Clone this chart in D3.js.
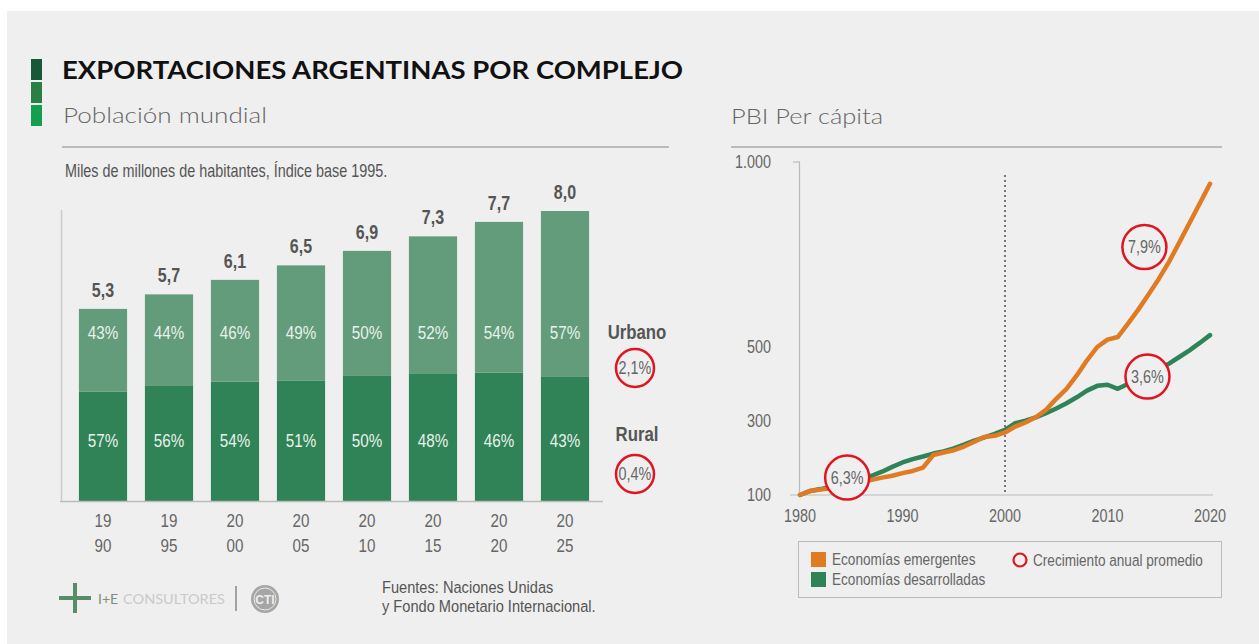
<!DOCTYPE html>
<html>
<head>
<meta charset="utf-8">
<script src="https://cdnjs.cloudflare.com/ajax/libs/d3/7.8.5/d3.min.js"></script>
<style>
  html, body { margin: 0; padding: 0; background: #ffffff; }
  svg { display: block; }
  .cond { font-family: "Liberation Sans", Arial, sans-serif; }
  .head { font-family: "Lato", "Open Sans", sans-serif; }
</style>
</head>
<body>
<svg id="chart" width="1259" height="644"></svg>
<script>
// ---- data ----
var years = ['1990', '1995', '2000', '2005', '2010', '2015', '2020', '2025'];
var totals = [5.3, 5.7, 6.1, 6.5, 6.9, 7.3, 7.7, 8.0];
var urbanPct = [43, 44, 46, 49, 50, 52, 54, 57];
var growthLabels = ['2,1%', '0,4%'];

var pbiYears = [1980, 1981, 1982, 1983, 1984, 1985, 1986, 1987, 1988, 1989,
  1990, 1991, 1992, 1993, 1994, 1995, 1996, 1997, 1998, 1999,
  2000, 2001, 2002, 2003, 2004, 2005, 2006, 2007, 2008, 2009,
  2010, 2011, 2012, 2013, 2014, 2015, 2016, 2017, 2018, 2019, 2020];
var emergentes = [100, 111, 115, 118, 124, 131, 136, 141, 147, 152,
  159, 165, 174, 208, 215, 221, 231, 244, 257, 260,
  269, 285, 296, 310, 330, 360, 387, 423, 464, 500,
  520, 527, 563, 601, 642, 684, 730, 782, 835, 888, 941];
var desarrolladas = [100, 111, 116, 122, 129, 136, 143, 152, 163, 176,
  188, 197, 204, 212, 218, 226, 236, 247, 256, 265,
  276, 294, 301, 310, 321, 334, 348, 364, 382, 395,
  398, 387, 400, 414, 427, 441, 455, 473, 491, 511, 532];
var pbiTicks = [100, 300, 500, 1000];
var pbiYearTicks = [1980, 1990, 2000, 2010, 2020];
var rateNotes = [
  {label: '6,3%', year: 1984.6, value: 147},
  {label: '7,9%', year: 2013.6, value: 770},
  {label: '3,6%', year: 2013.9, value: 420}
];

var svg = d3.select('#chart');
var bg = '#efefef';
var urbanColor = '#629c7a';
var ruralColor = '#2f8356';
var orange = '#e07b24';
var green = '#2e8456';
var red = '#e0151f';
var grey = '#666666';

// condensed look: Arial metrics squeezed horizontally
function narrow(sel, fx, fy, k) {
  k = k || 0.8;
  return sel.attr('transform', function(d, i) {
    var xx = typeof fx === 'function' ? fx(d, i) : fx;
    var yy = typeof fy === 'function' ? fy(d, i) : fy;
    return 'translate(' + xx + ',' + yy + ') scale(' + k + ',1)';
  });
}

svg.append('rect').attr('x', 7).attr('y', 11).attr('width', 1252).attr('height', 633).attr('fill', bg);

// title block
var marks = ['#17583a', '#2a7f46', '#12a04e'];
svg.selectAll('rect.mark').data(marks).enter().append('rect')
  .attr('x', 31).attr('width', 11)
  .attr('y', function(d, i) { return 59 + i * 23; })
  .attr('height', 21)
  .attr('fill', function(d) { return d; });

svg.append('text').attr('class', 'head').attr('x', 62).attr('y', 79)
  .attr('font-size', 25).attr('font-weight', 700).attr('fill', '#111')
  .attr('textLength', 621).attr('lengthAdjust', 'spacingAndGlyphs')
  .text('EXPORTACIONES ARGENTINAS POR COMPLEJO');

svg.append('text').attr('class', 'head').attr('x', 63).attr('y', 123)
  .attr('font-size', 22).attr('font-weight', 300).attr('fill', grey)
  .attr('textLength', 204).attr('lengthAdjust', 'spacingAndGlyphs')
  .text('Población mundial');
svg.append('text').attr('class', 'head').attr('x', 731).attr('y', 124)
  .attr('font-size', 22).attr('font-weight', 300).attr('fill', grey)
  .attr('textLength', 152).attr('lengthAdjust', 'spacingAndGlyphs')
  .text('PBI Per cápita');

svg.append('line').attr('x1', 62).attr('x2', 669).attr('y1', 147).attr('y2', 147).attr('stroke', '#888');
svg.append('line').attr('x1', 731).attr('x2', 1222).attr('y1', 147).attr('y2', 147).attr('stroke', '#888');

narrow(svg.append('text').attr('class', 'cond'), 65, 177, 0.8)
  .attr('font-size', 18).attr('fill', '#555')
  .text('Miles de millones de habitantes, Índice base 1995.');

// ---- bar chart ----
var x = d3.scaleBand().domain(years).range([70, 598]).paddingInner(0.27).paddingOuter(0.135);
var y = d3.scaleLinear().domain([0, 8]).range([501, 211]);

var rows = years.map(function(yr, i) {
  return {year: yr, total: totals[i], urban: urbanPct[i], rural: 100 - urbanPct[i]};
});

var bars = svg.append('g');
bars.selectAll('rect.rural').data(rows).enter().append('rect')
  .attr('x', function(d) { return x(d.year); })
  .attr('width', x.bandwidth())
  .attr('y', function(d) { return y(d.total * d.rural / 100); })
  .attr('height', function(d) { return y(0) - y(d.total * d.rural / 100); })
  .attr('fill', ruralColor);
bars.selectAll('rect.urban').data(rows).enter().append('rect')
  .attr('x', function(d) { return x(d.year); })
  .attr('width', x.bandwidth())
  .attr('y', function(d) { return y(d.total); })
  .attr('height', function(d) { return y(d.total * d.rural / 100) - y(d.total); })
  .attr('fill', urbanColor);

function cx(d) { return x(d.year) + x.bandwidth() / 2; }

narrow(bars.selectAll('text.tot').data(rows).enter().append('text'), cx, function(d) { return y(d.total) - 12; })
  .attr('class', 'cond').attr('text-anchor', 'middle')
  .attr('font-size', 20).attr('font-weight', 700).attr('fill', '#555')
  .text(function(d) { return d3.format('.1f')(d.total).replace('.', ','); });

narrow(bars.selectAll('text.up').data(rows).enter().append('text'), cx, 339)
  .attr('class', 'cond').attr('text-anchor', 'middle')
  .attr('font-size', 19).attr('fill', '#e9f1ec')
  .text(function(d) { return d.urban + '%'; });
narrow(bars.selectAll('text.rp').data(rows).enter().append('text'), cx, 447)
  .attr('class', 'cond').attr('text-anchor', 'middle')
  .attr('font-size', 19).attr('fill', '#e9f1ec')
  .text(function(d) { return d.rural + '%'; });

narrow(bars.selectAll('text.y1').data(rows).enter().append('text'), cx, 527)
  .attr('class', 'cond').attr('text-anchor', 'middle')
  .attr('font-size', 19).attr('fill', grey)
  .text(function(d) { return d.year.slice(0, 2); });
narrow(bars.selectAll('text.y2').data(rows).enter().append('text'), cx, 552)
  .attr('class', 'cond').attr('text-anchor', 'middle')
  .attr('font-size', 19).attr('fill', grey)
  .text(function(d) { return d.year.slice(2); });

svg.append('line').attr('x1', 60).attr('x2', 603).attr('y1', 501.5).attr('y2', 501.5).attr('stroke', '#bbb').attr('stroke-width', 1.5);
svg.append('line').attr('x1', 61.5).attr('x2', 61.5).attr('y1', 210).attr('y2', 501).attr('stroke', '#ccc').attr('stroke-width', 1.5);

// side labels
narrow(svg.append('text').attr('class', 'cond'), 637, 339).attr('text-anchor', 'middle')
  .attr('font-size', 21).attr('font-weight', 700).attr('fill', '#555').text('Urbano');
narrow(svg.append('text').attr('class', 'cond'), 637, 441).attr('text-anchor', 'middle')
  .attr('font-size', 21).attr('font-weight', 700).attr('fill', '#555').text('Rural');
var sideY = [368, 474];
growthLabels.forEach(function(t, i) {
  svg.append('circle').attr('cx', 635).attr('cy', sideY[i]).attr('r', 19)
    .attr('fill', bg).attr('stroke', red).attr('stroke-width', 2.5);
  narrow(svg.append('text').attr('class', 'cond'), 635, sideY[i] + 6).attr('text-anchor', 'middle')
    .attr('font-size', 18).attr('fill', grey).text(t);
});

// footer
var logo = svg.append('g').attr('opacity', 0.85);
logo.append('line').attr('x1', 59).attr('x2', 91).attr('y1', 598).attr('y2', 598).attr('stroke', '#3f7d52').attr('stroke-width', 4);
logo.append('line').attr('x1', 75).attr('x2', 75).attr('y1', 583).attr('y2', 613).attr('stroke', '#3f7d52').attr('stroke-width', 4);
logo.append('text').attr('class', 'head').attr('x', 98).attr('y', 604).attr('font-size', 14).attr('fill', '#6b7a70').text('I+E');
logo.append('text').attr('class', 'head').attr('x', 123).attr('y', 604).attr('font-size', 14).attr('fill', '#c4c4c4')
  .attr('textLength', 102).attr('lengthAdjust', 'spacingAndGlyphs').text('CONSULTORES');
logo.append('line').attr('x1', 236).attr('x2', 236).attr('y1', 586).attr('y2', 611).attr('stroke', '#777').attr('stroke-width', 1.5);
logo.append('circle').attr('cx', 265).attr('cy', 599).attr('r', 14).attr('fill', '#9a9a9a');
logo.append('circle').attr('cx', 265).attr('cy', 599).attr('r', 11).attr('fill', 'none').attr('stroke', '#e8e8e8').attr('stroke-width', 1);
logo.append('text').attr('class', 'cond').attr('x', 265).attr('y', 604).attr('text-anchor', 'middle').attr('font-size', 12).attr('font-weight', 700).attr('fill', '#eee').text('CTI');

narrow(svg.append('text').attr('class', 'cond'), 382, 593, 0.86).attr('font-size', 17).attr('fill', '#555')
  .text('Fuentes: Naciones Unidas');
narrow(svg.append('text').attr('class', 'cond'), 382, 612, 0.86).attr('font-size', 17).attr('fill', '#555')
  .text('y Fondo Monetario Internacional.');

// ---- line chart ----
var lx = d3.scaleLinear().domain([1980, 2020]).range([800, 1210]);
var ly = d3.scaleLinear().domain([100, 1000]).range([495, 162]);
var es = d3.formatLocale({decimal: ',', thousands: '.', grouping: [3], currency: ['$', '']});

svg.append('line').attr('x1', 799.5).attr('x2', 799.5).attr('y1', ly(1000)).attr('y2', ly(100)).attr('stroke', '#bbb').attr('stroke-width', 1.2);
svg.append('line').attr('x1', 793).attr('x2', 800).attr('y1', ly(1000)).attr('y2', ly(1000)).attr('stroke', '#bbb').attr('stroke-width', 1.2);
svg.append('line').attr('x1', 790).attr('x2', 1213).attr('y1', ly(100)).attr('y2', ly(100)).attr('stroke', '#bbb').attr('stroke-width', 1.2);

narrow(svg.selectAll('text.ytick').data(pbiTicks).enter().append('text'), 771, function(d) { return ly(d) + 6; })
  .attr('class', 'cond').attr('text-anchor', 'end')
  .attr('font-size', 18).attr('fill', grey)
  .text(function(d) { return es.format(',')(d); });
narrow(svg.selectAll('text.xtick').data(pbiYearTicks).enter().append('text'), function(d) { return lx(d); }, 522)
  .attr('class', 'cond').attr('text-anchor', 'middle')
  .attr('font-size', 18).attr('fill', grey)
  .text(function(d) { return d; });

svg.append('line').attr('x1', lx(2000)).attr('x2', lx(2000)).attr('y1', 175).attr('y2', 493)
  .attr('stroke', '#777').attr('stroke-width', 2).attr('stroke-dasharray', '2,3');

var line = d3.line()
  .x(function(d) { return lx(d[0]); })
  .y(function(d) { return ly(d[1]); })
  .curve(d3.curveLinear);

svg.append('path').datum(d3.zip(pbiYears, desarrolladas)).attr('d', line)
  .attr('fill', 'none').attr('stroke', green).attr('stroke-width', 4.5)
  .attr('stroke-linecap', 'round').attr('stroke-linejoin', 'round');
svg.append('path').datum(d3.zip(pbiYears, emergentes)).attr('d', line)
  .attr('fill', 'none').attr('stroke', orange).attr('stroke-width', 4.5)
  .attr('stroke-linecap', 'round').attr('stroke-linejoin', 'round');

var notes = svg.selectAll('g.note').data(rateNotes).enter().append('g')
  .attr('transform', function(d) { return 'translate(' + lx(d.year) + ',' + ly(d.value) + ')'; });
notes.append('circle').attr('r', 22).attr('fill', bg).attr('stroke', red).attr('stroke-width', 2.5);
notes.append('text').attr('class', 'cond').attr('text-anchor', 'middle')
  .attr('transform', 'translate(0,6) scale(0.8,1)')
  .attr('font-size', 18).attr('fill', grey).text(function(d) { return d.label; });

// legend
var lg = svg.append('g');
lg.append('rect').attr('x', 798.5).attr('y', 541.5).attr('width', 423).attr('height', 56)
  .attr('fill', 'none').attr('stroke', '#bbb').attr('stroke-width', 1);
var legendItems = [
  {label: 'Economías emergentes', color: orange, y: 552},
  {label: 'Economías desarrolladas', color: green, y: 572}
];
legendItems.forEach(function(it) {
  lg.append('rect').attr('x', 811).attr('y', it.y).attr('width', 15).attr('height', 15).attr('fill', it.color);
  narrow(lg.append('text').attr('class', 'cond'), 832, it.y + 13)
    .attr('font-size', 17).attr('fill', grey).text(it.label);
});
lg.append('circle').attr('cx', 1020).attr('cy', 560).attr('r', 6.5).attr('fill', 'none').attr('stroke', red).attr('stroke-width', 2.2);
narrow(lg.append('text').attr('class', 'cond'), 1033, 566)
  .attr('font-size', 17).attr('fill', grey).text('Crecimiento anual promedio');
</script>
</body>
</html>
